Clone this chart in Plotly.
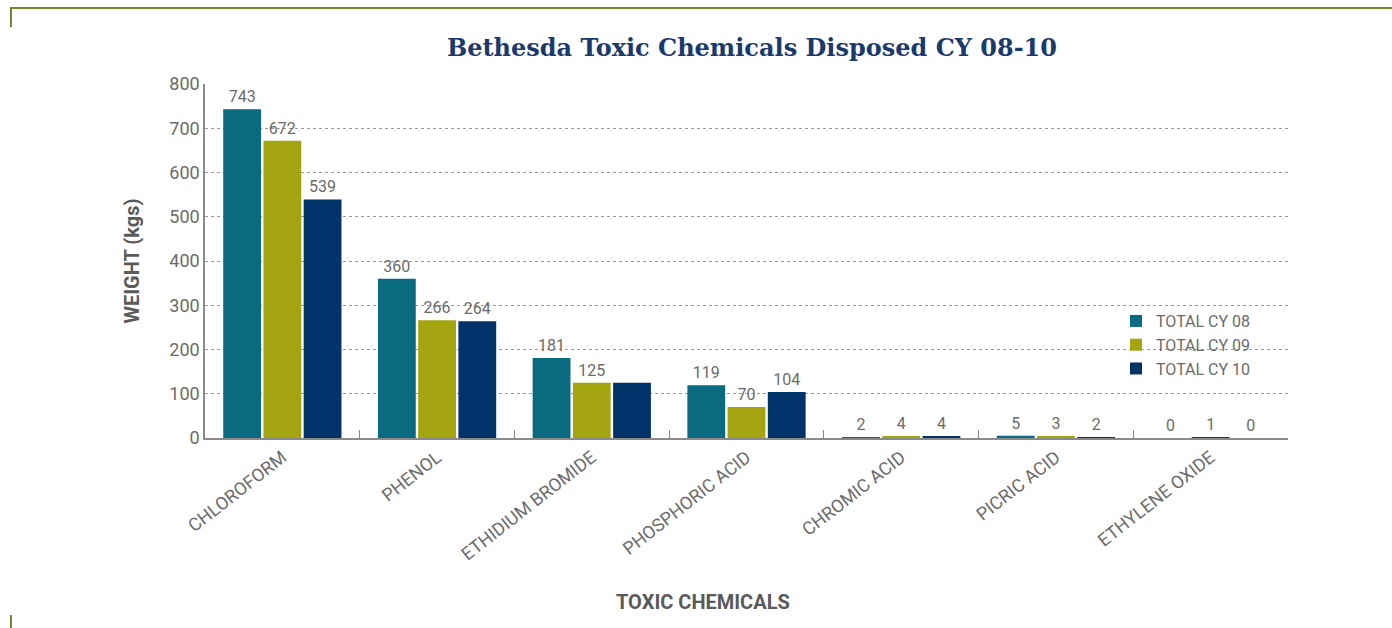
import plotly.graph_objects as go

# Disposed weights (kg) per chemical and calendar year
chemicals = ["CHLOROFORM", "PHENOL", "ETHIDIUM BROMIDE", "PHOSPHORIC ACID",
             "CHROMIC ACID", "PICRIC ACID", "ETHYLENE OXIDE"]
cy08 = [743, 360, 181, 119, 2, 5, 0]
cy09 = [672, 266, 125, 70, 4, 3, 1]
cy10 = [539, 264, 125, 104, 4, 2, 0]
# value labels shown above the bars (one CY 10 label is left blank)
cy08_labels = [str(v) for v in cy08]
cy09_labels = [str(v) for v in cy09]
cy10_labels = ["539", "264", "", "104", "4", "2", "0"]
y_ticks = [0, 100, 200, 300, 400, 500, 600, 700, 800]

C08 = "#0a6a80"
C09 = "#a3a40f"
C10 = "#00336a"
GREY = "#6b6b6b"
FONT = "Roboto, Arial, sans-serif"

W, H = 1392, 628
L, R, T, B = 205, 104, 84, 190
PW, PH = W - L - R, H - T - B


def px(x):
    return (x - L) / PW


def py(y):
    return (H - B - y) / PH


fig = go.Figure()
series = [
    ("TOTAL CY 08", cy08, cy08_labels, C08),
    ("TOTAL CY 09", cy09, cy09_labels, [C09] * 6 + ["#3a3530"]),
    ("TOTAL CY 10", cy10, cy10_labels, C10),
]
for name, vals, labels, col in series:
    fig.add_trace(go.Bar(
        x=chemicals, y=vals, name=name,
        marker=dict(color=col, line=dict(width=0)),
        text=labels, textposition="outside",
        textfont=dict(size=16, color=GREY, family=FONT),
        cliponaxis=False,
    ))

fig.update_layout(
    width=W, height=H,
    margin=dict(l=L, r=R, t=T, b=B),
    paper_bgcolor="white", plot_bgcolor="white",
    barmode="group", bargap=0.22, bargroupgap=0.06,
    font=dict(family=FONT, color=GREY),
    title=dict(
        text="<b>Bethesda Toxic Chemicals Disposed CY 08-10</b>",
        xref="container", x=752 / W, xanchor="center",
        yref="container", y=1 - 48 / H, yanchor="middle",
        font=dict(family="DejaVu Serif, serif", size=24, color="#1b3a6b"),
    ),
    legend=dict(
        x=px(1116), y=py(304), xanchor="left", yanchor="top",
        bgcolor="rgba(0,0,0,0)", font=dict(size=16, color=GREY, family=FONT),
        itemwidth=30, tracegroupgap=2,
    ),
    showlegend=True,
)

fig.update_xaxes(
    type="category", showgrid=False,
    showline=True, linecolor="#8a8a8a", linewidth=2,
    ticks="inside", tickson="boundaries", ticklen=8, tickcolor="#8a8a8a",
    tickangle=-38, tickfont=dict(size=18, color=GREY, family=FONT),
)
fig.update_yaxes(
    range=[0, 800], tickvals=y_ticks,
    showgrid=True, gridcolor="#9a9a9a", griddash="dot", gridwidth=1,
    showline=True, linecolor="#8a8a8a", linewidth=1.5,
    ticks="", zeroline=False,
    tickfont=dict(size=18, color=GREY, family=FONT),
    title=dict(text="<b>WEIGHT (kgs)</b>", standoff=24,
               font=dict(size=20, color="#5a5a5a", family=FONT)),
)

# x axis title placed below the slanted category labels
fig.add_annotation(
    text="<b>TOXIC CHEMICALS</b>", xref="paper", yref="paper",
    x=px(703), y=py(602), xanchor="center", yanchor="middle",
    showarrow=False, font=dict(size=20, color="#5a5a5a", family=FONT),
)

# olive page frame corners
OLIVE = "#6f8a2a"
fig.add_shape(type="line", xref="paper", yref="paper",
              x0=px(10), x1=px(1392), y0=py(8), y1=py(8),
              line=dict(color=OLIVE, width=2))
fig.add_shape(type="line", xref="paper", yref="paper",
              x0=px(11), x1=px(11), y0=py(8), y1=py(27),
              line=dict(color=OLIVE, width=2))
fig.add_shape(type="line", xref="paper", yref="paper",
              x0=px(11), x1=px(11), y0=py(615), y1=py(628),
              line=dict(color=OLIVE, width=2))

fig.write_html("out.html")
